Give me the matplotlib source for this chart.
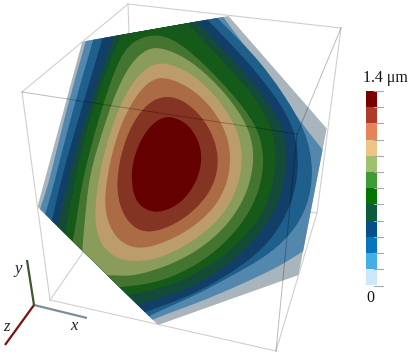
import matplotlib
matplotlib.use('Agg')
import matplotlib.pyplot as plt
from matplotlib.path import Path
from matplotlib.patches import PathPatch, Polygon, Rectangle

# picture pixels, top left corner is 0,0
surface = [(82.3, 41.7), (228.5, 16), (326.7, 128.5), (298.5, 275), (158, 325), (37.5, 206.7)]

band_colors = ['#A9B5BD', '#5387AD', '#1E5F8C', '#123F68', '#144A38', '#155A18',
               '#447530', '#8A9C5C', '#BC9C6B', '#AB6B45', '#843422', '#640000']

# contour outlines, read in a 3x crop that starts at (30, 10)
# each level is one or more arcs, joined by straight runs outside the surface
level1 = [[(22, 625), (32, 590), (60, 510), (105, 310), (168, 95), (174, 60)],
          [(570, 5), (578, 20), (650, 115), (725, 215), (800, 320), (878, 420), (915, 465)],
          [(860, 700), (820, 722), (750, 770), (600, 838), (500, 880), (370, 926), (340, 945)]]
level2 = [[(35, 640), (48, 608), (75, 510), (125, 310), (190, 90), (197, 60)],
          [(550, 8), (560, 24), (680, 140), (760, 250), (830, 365), (852, 480), (835, 590), (780, 680),
           (700, 745), (600, 800), (500, 855), (360, 915), (335, 932)]]
level3 = [[(58, 650), (70, 620), (92, 510), (150, 310), (218, 85), (226, 55)],
          [(520, 12), (530, 28), (650, 150), (730, 250), (795, 350), (810, 470), (785, 590), (720, 700),
           (620, 780), (480, 860), (345, 905), (320, 918)]]
level4 = [[(75, 668), (88, 635), (112, 510), (170, 310), (250, 80), (258, 55)],
          [(490, 18), (500, 35), (625, 165), (700, 255), (760, 350), (775, 450), (755, 565), (690, 680),
           (580, 780), (450, 850), (330, 880), (305, 892)]]
level5 = [[(98, 690), (108, 660), (133, 510), (185, 300), (262, 95), (290, 50)],
          [(460, 25), (470, 40), (600, 175), (675, 260), (730, 355), (742, 460), (715, 590), (640, 690),
           (540, 770), (420, 830), (310, 850), (280, 865)]]
level6 = [[(122, 715), (133, 680), (155, 510), (210, 310), (270, 130), (320, 85), (390, 68), (470, 110),
           (600, 240), (685, 350), (705, 445), (690, 545), (635, 650), (530, 750), (420, 805), (340, 825),
           (275, 830), (240, 835)]]
level7 = [[(155, 745), (160, 680), (175, 510), (200, 420), (250, 260), (300, 160), (345, 120), (385, 108),
           (480, 145), (590, 250), (660, 355), (675, 445), (655, 545), (600, 640), (510, 720), (410, 770),
           (320, 796), (280, 798), (245, 795), (210, 797)]]
level8 = [(400, 152), (490, 190), (570, 270), (625, 360), (640, 445), (625, 535), (575, 625), (490, 695),
          (400, 742), (320, 758), (250, 745), (205, 695), (192, 620), (205, 500), (240, 360), (290, 240),
          (345, 172)]
level9 = [(405, 200), (480, 230), (545, 290), (590, 365), (605, 445), (590, 535), (540, 612), (460, 672),
          (380, 707), (320, 718), (265, 695), (230, 635), (222, 560), (240, 450), (275, 330), (330, 238),
          (370, 207)]
level10 = [(410, 253), (470, 275), (525, 330), (557, 395), (567, 458), (552, 528), (505, 592), (440, 642),
           (360, 672), (308, 654), (272, 602), (258, 530), (270, 440), (300, 350), (350, 278)]
level11 = [(420, 317), (472, 338), (507, 390), (518, 447), (502, 512), (465, 568), (420, 598), (375, 610),
           (332, 592), (309, 555), (303, 490), (314, 430), (345, 365), (385, 326)]
open_levels = [level1, level2, level3, level4, level5, level6, level7]
closed_levels = [level8, level9, level10, level11]

box_corners = {'A': (128, 4), 'B': (22, 92), 'C': (297, 134), 'D': (341, 28),
               'a': (134, 179), 'b': (50, 300), 'c': (276, 351), 'd': (317, 213)}
back_edges = ['AB', 'AD', 'Aa', 'Bb', 'ab', 'ad', 'bc', 'cd', 'Dd']
front_edges = ['BC', 'CD', 'Cc']

triad_origin = (34, 305)
triad_tips = {'x': (87, 318), 'y': (27, 260), 'z': (5, 345)}
triad_colors = {'x': '#7C8E9C', 'y': '#3A5A2C', 'z': '#7A1212'}
triad_labels = {'x': (74, 326), 'y': (18, 269), 'z': (6, 327)}

bar_colors = ['#7B0000', '#B03A28', '#E5835A', '#EDC684', '#A0C06E', '#3E9A34',
              '#027400', '#0A5A3C', '#03508C', '#0876BC', '#45AEE5', '#CDE8FB']
bar_top, bar_bottom = 91, 285.5
bar_left, bar_right = 365.7, 376.7
bar_labels = ['1.4 \u03bcm', '0']


def to_px(points):
    return [(30 + x / 3, 10 + y / 3) for x, y in points]


def spline_piece(p0, p1, p2, p3):
    # uniform cubic b-spline span as a bezier, smooths out reading errors
    return [((2 * p1[0] + p2[0]) / 3, (2 * p1[1] + p2[1]) / 3),
            ((p1[0] + 2 * p2[0]) / 3, (p1[1] + 2 * p2[1]) / 3),
            ((p1[0] + 4 * p2[0] + p3[0]) / 6, (p1[1] + 4 * p2[1] + p3[1]) / 6)]


def closed_path(points):
    p = to_px(points)
    n = len(p)
    start = ((p[-1][0] + 4 * p[0][0] + p[1][0]) / 6, (p[-1][1] + 4 * p[0][1] + p[1][1]) / 6)
    verts = [start]
    codes = [Path.MOVETO]
    for i in range(n):
        verts += spline_piece(p[i - 1], p[i], p[(i + 1) % n], p[(i + 2) % n])
        codes += [Path.CURVE4] * 3
    return Path(verts, codes)


def open_path(arcs):
    verts = []
    codes = []
    for arc in arcs:
        p = to_px(arc)
        p = [p[0], p[0]] + p + [p[-1], p[-1]]
        codes.append(Path.LINETO if verts else Path.MOVETO)
        verts.append(p[0])
        for i in range(1, len(p) - 2):
            verts += spline_piece(p[i - 1], p[i], p[i + 1], p[i + 2])
            codes += [Path.CURVE4] * 3
    verts.append(to_px(arcs[0])[0])
    codes.append(Path.LINETO)
    return Path(verts, codes)


fig = plt.figure(figsize=(4.12, 3.57), dpi=100)
ax = fig.add_axes([0, 0, 1, 1])
ax.set_xlim(0, 412)
ax.set_ylim(357, 0)
ax.axis('off')

for e in back_edges:
    p, q = box_corners[e[0]], box_corners[e[1]]
    ax.plot([p[0], q[0]], [p[1], q[1]], color='#CFCFCF', lw=0.8, zorder=1)

sheet = Polygon(surface, closed=True, fc=band_colors[0], ec='none', zorder=2)
ax.add_patch(sheet)
paths = [open_path(lv) for lv in open_levels] + [closed_path(lv) for lv in closed_levels]
for i, path in enumerate(paths):
    patch = PathPatch(path, fc=band_colors[i + 1], ec='none', zorder=3 + i * 0.01)
    ax.add_patch(patch)
    patch.set_clip_path(sheet)

for e in front_edges:
    p, q = box_corners[e[0]], box_corners[e[1]]
    ax.plot([p[0], q[0]], [p[1], q[1]], color='#000000', alpha=0.27, lw=0.7, zorder=4)

for k in 'xyz':
    tip = triad_tips[k]
    ax.plot([triad_origin[0], tip[0]], [triad_origin[1], tip[1]], color=triad_colors[k],
            lw=1.6, solid_capstyle='butt', zorder=5)
    ax.text(triad_labels[k][0], triad_labels[k][1], k, family='Liberation Serif', style='italic',
            fontsize=12, color='#222222', ha='center', va='center')

step = (bar_bottom - bar_top) / len(bar_colors)
for i, c in enumerate(bar_colors):
    ax.add_patch(Rectangle((bar_left, bar_top + i * step), bar_right - bar_left, step, fc=c, ec='none'))
for i in range(len(bar_colors) + 1):
    y = bar_top + i * step
    ax.plot([374, 383], [y, y], color='#A8A8A8', lw=0.8, zorder=3)

ax.text(385.5, 78.5, bar_labels[0], family='Liberation Serif', fontsize=11.5, color='#111111', ha='center', va='center')
ax.text(370.5, 297.5, bar_labels[1], family='Liberation Serif', fontsize=11.5, color='#111111', ha='center', va='center')

fig.savefig('out.png', dpi=100)
